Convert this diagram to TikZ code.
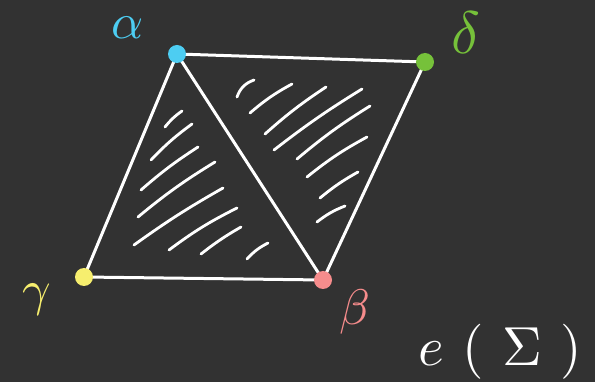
\documentclass[tikz,border=0pt]{standalone}
\definecolor{bg}{HTML}{323232}
\definecolor{ccyan}{HTML}{4DCDF2}
\definecolor{cgreen}{HTML}{76C13A}
\definecolor{cyellow}{HTML}{F6EE6E}
\definecolor{cpink}{HTML}{F68C8C}
\begin{document}
\begin{tikzpicture}[x=1pt,y=-1pt,
  edge/.style={draw=white,line width=3pt,line cap=round},
  hatch/.style={draw=white,line width=2.8pt,line cap=round},
  vdot/.style={circle,inner sep=0pt,minimum size=18pt},
  lab/.style={inner sep=0pt,font=\normalsize,scale=5}]
\fill[bg] (0,0) rectangle (595,382);
\useasboundingbox (0,0) rectangle (595,382);
\coordinate (a) at (177,54);
\coordinate (d) at (425,62);
\coordinate (g) at (84,277);
\coordinate (b) at (323,280);
\path[edge] (a) -- (d) -- (b) -- (g) -- (a) -- (b);
% hatching left triangle
\draw[hatch] (165,127) to[bend left=8] (182,111);
\draw[hatch] (151,160) to[bend left=5] (192,124);
\draw[hatch] (141,190) to[bend left=4] (198,147);
\draw[hatch] (138,217) to[bend left=4] (215,162);
\draw[hatch] (134,245) to[bend left=3] (223,188);
\draw[hatch] (169,250) to[bend left=5] (237,208);
\draw[hatch] (201,254) to[bend left=4] (241,227);
\draw[hatch] (247,259) to[bend left=10] (268,243);
% hatching right triangle
\draw[hatch] (237,97) to[bend left=25] (254,80);
\draw[hatch] (250,113) to[bend left=6] (292,84);
\draw[hatch] (265,134) to[bend left=4] (326,87);
\draw[hatch] (274,150) to[bend left=3] (362,89);
\draw[hatch] (297,159) to[bend left=4] (370,106);
\draw[hatch] (307,177) to[bend left=5] (367,137);
\draw[hatch] (320,198) to[bend left=5] (358,172);
\draw[hatch] (317,222) to[bend left=8] (345,206);
% vertices
\node[vdot,fill=ccyan] (na) at (a) {};
\node[vdot,fill=cgreen] (nd) at (d) {};
\node[vdot,fill=cyellow] (ng) at (g) {};
\node[vdot,fill=cpink] (nb) at (b) {};
% labels
\node[lab,text=ccyan] (la) at (128,28) {$\alpha$};
\node[lab,text=cgreen,scale=1.2] (ld) at (466,33) {$\delta$};
\node[lab,text=cyellow] (lg) at (37,300) {$\gamma$};
\node[lab,text=cpink] (lb) at (355,312) {$\beta$};
\node[lab,text=white,scale=1.1] (le) at (500,352) {$e\mkern6mu(\mkern6mu\Sigma\mkern6mu)$};
\end{tikzpicture}
\end{document}
